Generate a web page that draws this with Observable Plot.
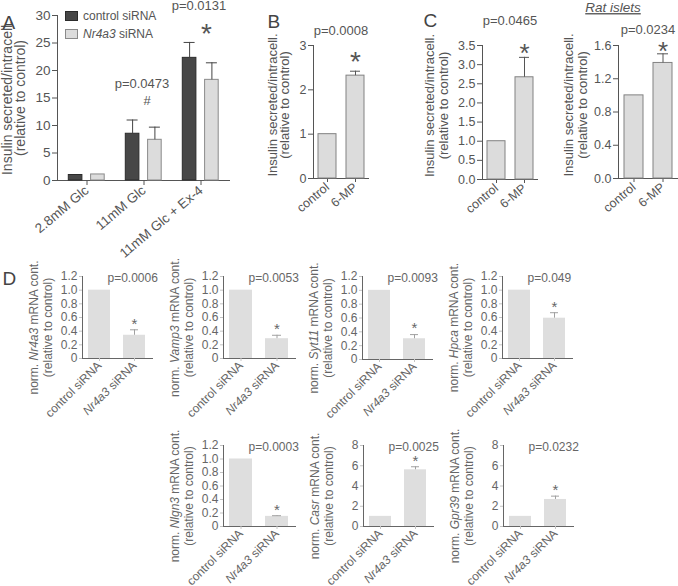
<!DOCTYPE html>
<html><head><meta charset="utf-8">
<script src="https://cdn.jsdelivr.net/npm/d3@7"></script>
<script src="https://cdn.jsdelivr.net/npm/@observablehq/plot@0.6"></script>
<style>
body{margin:0;background:#fff;overflow:hidden}
#fig{position:relative;width:678px;height:586px;font-family:"Liberation Sans",Arial,Helvetica,sans-serif;color:#555;overflow:hidden}
.pn{position:absolute}
.legend{position:absolute;font-size:12px;color:#555;line-height:17.5px}
.legend .sw{display:inline-block;width:11px;height:8px;margin-right:5px;vertical-align:-1px}
</style></head><body><div id="fig"></div>
<script>
// ---------- data ----------
const groupsA = ["2.8mM Glc", "11mM Glc", "11mM Glc + Ex-4"];
const seriesA = ["control siRNA", "Nr4a3 siRNA"];
const controlA = [1.0, 8.5, 22.3];
const controlSemA = [0, 2.5, 2.8];
const nr4a3A = [1.1, 7.4, 18.3];
const nr4a3SemA = [0, 2.3, 3.1];
const pA = ["", "p=0.0473", "p=0.0131"];
const sigA = ["", "#", "*"];
const ticksA = [0, 5, 10, 15, 20, 25, 30];

const catsBC = ["control", "6-MP"];
const valuesB = [1.0, 2.32];
const semB = [0, 0.10];
const pB = "p=0.0008";
const ticksB = [0, 1, 2, 3];

const valuesC = [1.0, 2.67];
const semC = [0, 0.52];
const pC = "p=0.0465";
const ticksC = [0, 0.5, 1.0, 1.5, 2.0, 2.5, 3.0, 3.5];

const titleRat = "Rat islets";
const valuesRat = [1.0, 1.39];
const semRat = [0, 0.11];
const pRat = "p=0.0234";
const ticksRat = [0, 0.4, 0.8, 1.2, 1.6];

const catsD = ["control siRNA", "Nr4a3 siRNA"];
const genesD = ["Nr4a3", "Vamp3", "Syt11", "Hpca", "Nlgn3", "Casr", "Gpr39"];
const controlD = [1, 1, 1, 1, 1, 1, 1];
const knockdownD = [0.34, 0.29, 0.30, 0.59, 0.15, 5.6, 2.67];
const semD = [0.08, 0.05, 0.06, 0.08, 0.01, 0.3, 0.33];
const pD = ["p=0.0006", "p=0.0053", "p=0.0093", "p=0.049", "p=0.0003", "p=0.0025", "p=0.0232"];
const yMaxD = [1.2, 1.2, 1.2, 1.2, 1.2, 8, 8];
const ticksD12 = [0, 0.2, 0.4, 0.6, 0.8, 1.0, 1.2];
const ticksD8 = [0, 2, 4, 6, 8];

const yLabelInsulin = "Insulin secreted/intracell.\n(relative to control)";
const italicWords = ["Nr4a3", "Vamp3", "Syt11", "Hpca", "Nlgn3", "Casr", "Gpr39"];

// ---------- layout (frame boxes in page pixels) ----------
const frames = {
  A: {l: 57, r: 229, t: 15, b: 180},
  B: {l: 313, r: 368, t: 45, b: 178},
  C: {l: 482, r: 537, t: 45, b: 179},
  Rat: {l: 618, r: 677, t: 45, b: 178},
  D: [
    {l: 82, r: 152, t: 276, b: 358},
    {l: 223, r: 295, t: 276, b: 358},
    {l: 362, r: 432, t: 276, b: 359},
    {l: 502, r: 572, t: 276, b: 358},
    {l: 223, r: 295, t: 445, b: 526},
    {l: 363, r: 433, t: 445, b: 526},
    {l: 503, r: 573, t: 445, b: 526}
  ]
};
const M = {top: 50, right: 30, bottom: 90, left: 95};
const FONT = "'Liberation Sans', Arial, Helvetica, sans-serif";
const fig = document.getElementById("fig");
const svgNS = "http://www.w3.org/2000/svg";

function base(f, fontSize, color) {
  return {
    width: f.r - f.l + M.left + M.right,
    height: f.b - f.t + M.top + M.bottom,
    marginLeft: M.left, marginRight: M.right, marginTop: M.top, marginBottom: M.bottom,
    style: `background:transparent;overflow:visible;max-width:none;font-family:${FONT};font-size:${fontSize}px;color:${color};`
  };
}
function italicize(root) {
  for (const el of [...root.querySelectorAll("text, tspan")]) {
    if (el.children.length) continue;
    const t = el.textContent;
    const w = italicWords.find(w => t.includes(w));
    if (!w) continue;
    const parts = t.split(w);
    el.textContent = "";
    parts.forEach((part, i) => {
      if (i > 0) {
        const s = document.createElementNS(svgNS, "tspan");
        s.setAttribute("font-style", "italic");
        s.textContent = w;
        el.appendChild(s);
      }
      if (part) el.appendChild(document.createTextNode(part));
    });
  }
}
function recolorAxes(svg, stroke) {
  svg.querySelectorAll('g[aria-label^="x-axis"] line, g[aria-label^="x-axis"] path, g[aria-label^="y-axis"] line, g[aria-label^="y-axis"] path')
    .forEach(e => e.setAttribute("stroke", stroke));
}
function mount(plot, f) {
  const div = document.createElement("div");
  div.className = "pn";
  div.style.left = (f.l - M.left) + "px";
  div.style.top = (f.t - M.top) + "px";
  div.appendChild(plot);
  fig.appendChild(div);
  italicize(plot);
  return plot;
}

// ---------- Panel A ----------
{
  const f = frames.A;
  const rows = groupsA.flatMap((g, i) => [
    {group: g, series: seriesA[0], value: controlA[i], sem: controlSemA[i]},
    {group: g, series: seriesA[1], value: nr4a3A[i], sem: nr4a3SemA[i]}
  ]);
  const ann = groupsA.map((g, i) => ({
    group: g, p: pA[i], sig: sigA[i],
    top: Math.max(controlA[i] + controlSemA[i], nr4a3A[i] + nr4a3SemA[i])
  })).filter(d => d.p);
  const looks = [
    {fill: "#474747", stroke: "#2b2b2b", dx: -11.4},
    {fill: "#dcdcdc", stroke: "#8a8a8a", dx: 10.9}
  ];
  const marks = [];
  seriesA.forEach((s, k) => {
    const data = rows.filter(d => d.series === s);
    const err = data.filter(d => d.sem > 0);
    const lk = looks[k];
    marks.push(
      Plot.barY(data, {x: "group", y: "value", fill: lk.fill, stroke: lk.stroke, insetLeft: 21.7, insetRight: 21.7, dx: lk.dx}),
      Plot.ruleX(err, {x: "group", y1: "value", y2: d => d.value + d.sem, stroke: "#444", dx: lk.dx}),
      Plot.tickY(err, {x: "group", y: d => d.value + d.sem, stroke: "#444", insetLeft: 23, insetRight: 23, dx: lk.dx})
    );
  });
  marks.push(
    Plot.text(ann, {x: "group", y: "top", text: "p", dy: -36.5, dx: -2, fontSize: 13}),
    Plot.text(ann.filter(d => d.sig === "#"), {x: "group", y: "top", text: "sig", dy: -19.5, dx: 3, fontSize: 13}),
    Plot.text(ann.filter(d => d.sig === "*"), {x: "group", y: "top", text: "sig", dy: -8, dx: 5.5, fontSize: 28}),
    Plot.text([yLabelInsulin], {frameAnchor: "left", textAnchor: "middle", rotate: -90, dx: -43.5, dy: 0, fontSize: 14, lineHeight: 0.95, text: d => d}),
    Plot.text(["A"], {frameAnchor: "top-left", textAnchor: "start", dx: -55, dy: 0, fontSize: 19, fill: "#444", text: d => d})
  );
  mount(Plot.plot({
    ...base(f, 13.5, "#555"),
    x: {type: "band", domain: groupsA, padding: 0, tickRotate: -40, tickSize: 5, tickPadding: 3, line: true, label: null},
    y: {domain: [0, 30], ticks: ticksA, tickSize: 5, tickPadding: 2, line: true, label: null},
    marks
  }), f);
  // legend
  const lg = document.createElement("div");
  lg.className = "legend";
  lg.style.left = "65px";
  lg.style.top = "8px";
  seriesA.forEach((s, k) => {
    const row = document.createElement("div");
    const sw = document.createElement("span");
    sw.className = "sw";
    sw.style.background = looks[k].fill;
    sw.style.border = "1px solid " + looks[k].stroke;
    row.appendChild(sw);
    const w = italicWords.find(w => s.includes(w));
    if (w) {
      const it = document.createElement("i");
      it.textContent = w;
      row.appendChild(it);
      row.appendChild(document.createTextNode(s.replace(w, "")));
    } else row.appendChild(document.createTextNode(s));
    lg.appendChild(row);
  });
  fig.appendChild(lg);
}

// ---------- Panels B, C, Rat ----------
function twoBar(f, values, sems, p, ticks, fmt, opt) {
  const rows = catsBC.map((c, j) => ({cat: c, value: values[j], sem: sems[j]}));
  const err = rows.filter(d => d.sem > 0);
  const marks = [
    Plot.barY(rows, {x: "cat", y: "value", fill: "#dcdcdc", stroke: "#828282"}),
    Plot.ruleX(err, {x: "cat", y1: "value", y2: d => d.value + d.sem, stroke: "#555"}),
    Plot.tickY(err, {x: "cat", y: d => d.value + d.sem, stroke: "#555", insetLeft: 4, insetRight: 4}),
    Plot.text(err, {x: "cat", y: d => d.value + d.sem, text: () => "*", fontSize: opt.starSize, dy: opt.starDy}),
    Plot.text([p], {frameAnchor: "top", dy: opt.pDy, fontSize: 13, text: d => d}),
    Plot.text([yLabelInsulin], {frameAnchor: "left", textAnchor: "middle", rotate: -90, dx: opt.labDx, dy: -7, fontSize: 13, lineHeight: opt.lh, text: d => d})
  ];
  if (opt.letter) marks.push(Plot.text([opt.letter], {frameAnchor: "top-left", textAnchor: "start", dx: opt.letDx, dy: opt.letDy, fontSize: 19, fill: "#444", text: d => d}));
  if (opt.title) marks.push(Plot.text([opt.title], {frameAnchor: "top", dx: -35, dy: -43, fontSize: 13.5, fontStyle: "italic", text: d => d}));
  const plot = mount(Plot.plot({
    ...base(f, 12.5, "#555"),
    x: {domain: catsBC, paddingInner: 0.36, paddingOuter: opt.po, tickRotate: -40, tickSize: 4, tickPadding: 3, line: true, label: null},
    y: {domain: [0, ticks[ticks.length - 1]], ticks, tickFormat: fmt, tickSize: 5, tickPadding: 2, line: true, label: null},
    marks
  }), f);
  if (opt.title) plot.querySelectorAll("text").forEach(t => { if (t.textContent === opt.title) t.setAttribute("text-decoration", "underline"); });
}
twoBar(frames.B, valuesB, semB, pB, ticksB, d3.format("d"),
  {starSize: 28, starDy: -8.7, pDy: -20, labDx: -34, lh: 0.92, po: 0.13, letter: "B", letDx: -46, letDy: -31});
twoBar(frames.C, valuesC, semC, pC, ticksC, d3.format(".1f"),
  {starSize: 26, starDy: -3.5, pDy: -30, labDx: -46, lh: 1.08, po: 0.13, letter: "C", letDx: -59, letDy: -32.5});
twoBar(frames.Rat, valuesRat, semRat, pRat, ticksRat, d3.format(".1f"),
  {starSize: 26, starDy: -2.5, pDy: -21, labDx: -43, lh: 1.1, po: 0.17, title: titleRat});

// ---------- Panel D ----------
const fmtD12 = d => d === 0 ? "0" : d.toFixed(1);
genesD.forEach((gene, i) => {
  const f = frames.D[i];
  const rows = catsD.map((c, j) => ({cat: c, value: j ? knockdownD[i] : controlD[i], sem: j ? semD[i] : 0}));
  const err = rows.filter(d => d.sem > 0);
  const big = yMaxD[i] > 2;
  const marks = [
    Plot.barY(rows, {x: "cat", y: "value", fill: "#dedede"}),
    Plot.ruleX(err, {x: "cat", y1: "value", y2: d => d.value + d.sem, stroke: "#a0a0a0"}),
    Plot.tickY(err, {x: "cat", y: d => d.value + d.sem, stroke: "#a0a0a0", insetLeft: 7, insetRight: 7}),
    Plot.text(err, {x: "cat", y: d => d.value + d.sem, text: () => "*", fontSize: 15, dy: -6}),
    Plot.text([pD[i]], {frameAnchor: "top-left", textAnchor: "start", dx: 25, dy: -3.5, fontSize: 12, text: d => d}),
    Plot.text([`norm. ${gene} mRNA cont.\n(relative to control)`], {frameAnchor: "left", textAnchor: "middle", rotate: -90, dx: -42, dy: 10, fontSize: 12, lineHeight: 1.2, text: d => d})
  ];
  if (i === 0) marks.push(Plot.text(["D"], {frameAnchor: "top-left", textAnchor: "start", dx: -80, dy: -5, fontSize: 19, fill: "#444", text: d => d}));
  const plot = mount(Plot.plot({
    ...base(f, 12, "#666"),
    x: {domain: catsD, paddingInner: 0.36, paddingOuter: 0.17, tickRotate: -45, tickSize: 3, tickPadding: 2, line: true, label: null},
    y: {domain: [0, yMaxD[i]], ticks: big ? ticksD8 : ticksD12, tickFormat: big ? d3.format("d") : fmtD12, tickSize: 3, tickPadding: 2, line: true, label: null},
    marks
  }), f);
  recolorAxes(plot, "#c4c4c4");
});
</script></body></html>
